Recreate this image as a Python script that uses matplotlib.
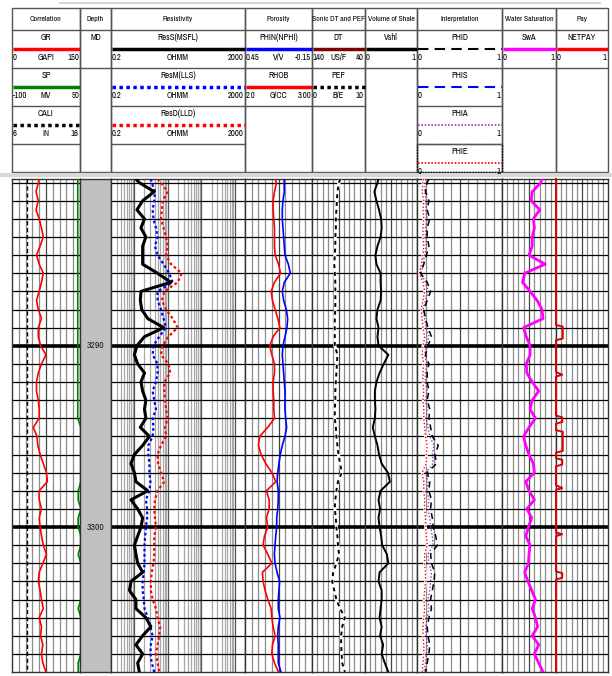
import matplotlib
matplotlib.use('Agg')
import matplotlib.pyplot as plt
from matplotlib.patches import Rectangle

plt.rcParams['font.family'] = ['Archivo Narrow', 'PT Sans Narrow', 'DejaVu Sans']

# depth samples (m), upper block 3280.8-3294, lower block 3294.5-3308
depth = [3280.8, 3281.0, 3281.5, 3282.0, 3282.5, 3283.0, 3283.5, 3284.0, 3284.5, 3285.0,
         3285.5, 3286.0, 3286.5, 3287.0, 3287.5, 3288.0, 3288.5, 3289.0, 3289.5, 3290.0,
         3290.5, 3291.0, 3291.5, 3292.0, 3292.5, 3293.0, 3293.5, 3294.0,
         3294.5, 3295.0, 3295.5, 3296.0, 3296.5, 3297.0, 3297.5, 3298.0, 3298.5, 3299.0,
         3299.5, 3300.0, 3300.5, 3301.0, 3301.5, 3302.0, 3302.5, 3303.0, 3303.5, 3304.0,
         3304.5, 3305.0, 3305.5, 3306.0, 3306.5, 3307.0, 3307.5, 3308.0]

gr = [60, 58, 53, 58, 53, 60, 65, 69, 62, 54, 60, 69, 65, 60, 54, 58, 65, 58, 58, 63,
      75, 65, 58, 54, 54, 58, 60, 60,
      47, 55, 57, 62, 69, 76, 78, 60, 60, 65, 60, 62, 65, 69, 76, 68, 60, 58, 62, 65,
      69, 60, 65, 63, 68, 65, 68, 75]
sp = [45, 45, 45, 45, 45, 45, 45, 45, 45, 45, 45, 45, 45, 45, 45, 45, 45, 45, 45, 45,
      45, 45, 45, 45, 45, 45, 45, 45,
      52, 52, 52, 52, 52, 52, 52, 46, 46, 52, 46, 46, 52, 52, 46, 52, 52, 52, 52, 52,
      46, 52, 52, 52, 52, 52, 46, 46]
cali = [8.2, 8.2, 8.2, 8.2, 8.2, 8.2, 8.2, 8.2, 8.2, 8.2, 8.2, 8.2, 8.2, 8.2, 8.2, 8.2,
        8.2, 8.2, 8.2, 8.2, 8.2, 8.2, 8.2, 8.2, 8.2, 8.2, 8.2, 8.2,
        8.2, 8.2, 8.2, 8.2, 8.2, 8.2, 8.2, 8.2, 8.2, 8.2, 8.2, 8.2, 8.2, 8.2, 8.2, 8.2,
        8.2, 8.2, 8.2, 8.2, 8.2, 8.2, 8.2, 8.2, 8.2, 8.2, 8.2, 8.2]

res_s = [1.11, 1.4, 3.9, 1.76, 1.19, 2.0, 1.57, 2.2, 1.76, 1.76, 1.76, 4.9, 12.3, 1.57,
         1.5, 1.65, 2.5, 7.5, 2.0, 1.19, 1.0, 1.25, 2.0, 1.57, 1.76, 2.2, 2.0, 2.2,
         1.5, 2.8, 1.76, 1.0, 0.79, 1.0, 1.11, 2.5, 0.79, 1.25, 1.76, 1.57, 1.25, 1.0,
         1.11, 1.25, 1.76, 0.79, 0.71, 1.11, 1.11, 2.2, 3.1, 1.76, 1.11, 1.76, 1.25, 1.4]
res_m = [3.1, 3.3, 4.1, 3.9, 3.5, 3.7, 4.4, 4.9, 4.1, 4.9, 7.4, 11, 13.8, 4.9, 4.9, 6.2,
         7.4, 8.8, 5.5, 3.7, 3.5, 4.9, 4.9, 4.4, 3.5, 3.9, 4.4, 3.5,
         3.7, 3.5, 2.6, 2.6, 2.8, 2.8, 3.0, 2.8, 2.2, 2.4, 2.4, 2.2, 2.1, 2.0, 2.0, 2.0,
         1.9, 1.76, 1.76, 1.9, 2.0, 2.5, 3.0, 3.5, 3.1, 3.0, 3.3, 3.9]
res_d = [4.9, 6.2, 9.8, 7.0, 6.6, 6.2, 7.4, 8.8, 9.8, 8.8, 12.4, 25.8, 19.5, 7.8, 6.6,
         8.8, 13.9, 19.5, 10.3, 7.0, 6.2, 10.3, 11.8, 7.8, 7.8, 8.2, 8.8, 9.8,
         8.2, 8.8, 6.2, 4.9, 5.1, 6.2, 7.8, 4.9, 4.1, 3.9, 4.1, 4.4, 3.9, 3.9, 3.9, 3.7,
         3.3, 3.1, 3.1, 3.5, 4.4, 4.9, 5.9, 5.5, 4.9, 4.4, 4.9, 5.5]

rhob = [2.45, 2.47, 2.44, 2.42, 2.42, 2.43, 2.44, 2.44, 2.44, 2.45, 2.50, 2.53, 2.44, 2.39,
        2.41, 2.45, 2.49, 2.52, 2.42, 2.37, 2.40, 2.44, 2.44, 2.42, 2.42, 2.43, 2.43, 2.44,
        2.34, 2.22, 2.20, 2.24, 2.31, 2.40, 2.46, 2.32, 2.36, 2.36, 2.32, 2.34, 2.29, 2.27,
        2.34, 2.40, 2.26, 2.27, 2.30, 2.34, 2.39, 2.40, 2.42, 2.45, 2.41, 2.40, 2.44, 2.50]
nphi = [0.098, 0.10, 0.098, 0.11, 0.116, 0.116, 0.11, 0.104, 0.098, 0.092, 0.062, 0.044,
        0.098, 0.116, 0.104, 0.08, 0.068, 0.074, 0.092, 0.11, 0.116, 0.11, 0.104, 0.098,
        0.092, 0.092, 0.092, 0.086,
        0.077, 0.092, 0.116, 0.134, 0.146, 0.157, 0.163, 0.152, 0.152, 0.157, 0.166, 0.166,
        0.175, 0.181, 0.187, 0.181, 0.163, 0.14, 0.146, 0.152, 0.152, 0.137, 0.152, 0.157,
        0.152, 0.152, 0.152, 0.128]

pef = [5.3, 5.1, 4.8, 4.7, 4.6, 4.5, 4.5, 4.4, 4.4, 4.3, 4.2, 4.3, 4.4, 4.4, 4.4, 4.4,
       4.3, 4.3, 4.3, 4.3, 4.8, 4.7, 4.6, 4.5, 4.4, 4.4, 4.3, 4.3,
       4.5, 4.6, 4.8, 5.0, 5.3, 5.6, 4.9, 4.6, 4.4, 4.3, 4.5, 4.6, 4.8, 4.9, 5.1, 4.6,
       4.0, 3.8, 4.2, 4.6, 5.3, 6.2, 5.7, 5.5, 5.5, 5.6, 5.7, 6.2]

vsh = [0.26, 0.24, 0.18, 0.22, 0.27, 0.31, 0.32, 0.30, 0.24, 0.20, 0.22, 0.30, 0.30, 0.31,
       0.30, 0.24, 0.22, 0.26, 0.24, 0.26, 0.45, 0.36, 0.28, 0.22, 0.19, 0.19, 0.20, 0.19,
       0.15, 0.19, 0.24, 0.27, 0.32, 0.44, 0.48, 0.30, 0.26, 0.29, 0.26, 0.28, 0.31, 0.33,
       0.42, 0.45, 0.28, 0.26, 0.32, 0.32, 0.30, 0.28, 0.32, 0.29, 0.35, 0.32, 0.38, 0.45]

phid = [0.14, 0.12, 0.10, 0.14, 0.12, 0.15, 0.12, 0.12, 0.14, 0.11, 0.08, 0.04, 0.12, 0.16,
        0.12, 0.08, 0.10, 0.13, 0.17, 0.13, 0.10, 0.14, 0.12, 0.12, 0.14, 0.12, 0.15, 0.14,
        0.16, 0.18, 0.25, 0.21, 0.23, 0.12, 0.15, 0.14, 0.17, 0.16, 0.18, 0.19, 0.22, 0.24,
        0.16, 0.17, 0.21, 0.20, 0.18, 0.16, 0.17, 0.14, 0.12, 0.13, 0.15, 0.14, 0.12, 0.10]
phia = [0.11, 0.10, 0.09, 0.11, 0.10, 0.12, 0.10, 0.10, 0.11, 0.09, 0.07, 0.05, 0.10, 0.13,
        0.10, 0.07, 0.09, 0.11, 0.14, 0.11, 0.09, 0.12, 0.10, 0.10, 0.12, 0.10, 0.12, 0.11,
        0.13, 0.15, 0.20, 0.18, 0.19, 0.10, 0.13, 0.12, 0.14, 0.13, 0.15, 0.16, 0.18, 0.19,
        0.13, 0.14, 0.17, 0.16, 0.15, 0.13, 0.14, 0.12, 0.10, 0.11, 0.12, 0.11, 0.10, 0.08]
phie = [0.08, 0.07, 0.06, 0.08, 0.07, 0.08, 0.07, 0.07, 0.08, 0.07, 0.05, 0.03, 0.07, 0.09,
        0.07, 0.05, 0.06, 0.07, 0.09, 0.07, 0.06, 0.08, 0.07, 0.07, 0.08, 0.07, 0.08, 0.08,
        0.09, 0.10, 0.12, 0.11, 0.11, 0.06, 0.08, 0.08, 0.09, 0.09, 0.10, 0.10, 0.11, 0.12,
        0.09, 0.09, 0.10, 0.10, 0.09, 0.08, 0.09, 0.08, 0.07, 0.07, 0.08, 0.08, 0.07, 0.06]

swa = [0.74, 0.72, 0.56, 0.54, 0.70, 0.58, 0.60, 0.56, 0.56, 0.50, 0.80, 0.42, 0.38, 0.52,
       0.65, 0.74, 0.76, 0.40, 0.45, 0.52, 0.52, 0.45, 0.46, 0.56, 0.68, 0.56, 0.52, 0.62,
       0.50, 0.40, 0.44, 0.50, 0.58, 0.60, 0.44, 0.50, 0.60, 0.46, 0.55, 0.49, 0.44, 0.52,
       0.50, 0.49, 0.42, 0.48, 0.55, 0.62, 0.56, 0.62, 0.66, 0.56, 0.68, 0.60, 0.68, 0.76]

pay_depth = [3280.8, 3288.85, 3288.95, 3289.6, 3289.7, 3291.45, 3291.6, 3291.7,
             3293.85, 3293.95, 3294.2, 3294.3, 3294.65, 3294.75, 3295.8, 3295.9,
             3296.2, 3296.3, 3296.55, 3296.65, 3297.7, 3297.85, 3297.95,
             3300.3, 3300.4, 3300.5, 3302.45, 3302.55, 3302.8, 3302.9, 3308.0]
netpay = [0, 0, 0.13, 0.13, 0, 0, 0.12, 0, 0, 0.12, 0.12, 0, 0, 0.13, 0.13, 0,
          0, 0.12, 0.12, 0, 0, 0.12, 0, 0, 0.12, 0, 0, 0.12, 0.12, 0, 0]

depth_labels = [3290, 3300]

titles = ['Correlation', 'Depth', 'Resistivity', 'Porosity', 'Sonic DT and PEF',
          'Volume of Shale', 'Interpretation', 'Water Saturation', 'Pay']
edges = [12, 80, 111, 245, 312, 365, 417, 502, 556, 608]

W, H = 612, 676
TOP, BOT = 179, 672
FS = 6.2

fig = plt.figure(figsize=(W / 100, H / 100), dpi=100)

# ---------- header (pixel coords) ----------
hdr = fig.add_axes([0, 0, 1, 1])
hdr.set_xlim(0, W)
hdr.set_ylim(H, 0)
hdr.axis('off')

hdr.plot([60, 600], [3, 3], color='#d8d8d8', lw=1.5)
hdr.plot([0, W], [175, 175], color='#d8d8d8', lw=3)

for i, t in enumerate(titles):
    x0, x1 = edges[i], edges[i + 1]
    hdr.add_patch(Rectangle((x0, 8), x1 - x0, 164, fill=False, ec='#555555', lw=1))
    hdr.plot([x0, x1], [30, 30], color='#555555', lw=1)
    hdr.text((x0 + x1) / 2, 19, t, ha='center', va='center', fontsize=5.6)

def curve_hdr(col, row, name, color, ls, lw, left, unit, right, box=True):
    x0, x1 = edges[col], edges[col + 1]
    y0 = 30 + 38 * row
    hdr.text((x0 + x1) / 2, y0 + 8, name, ha='center', va='center', fontsize=FS)
    hdr.plot([x0 + 0.5, x1 - 0.5], [y0 + 19, y0 + 19], color=color, ls=ls, lw=lw,
             solid_capstyle='butt')
    hdr.text(x0 + 1, y0 + 27.5, left, ha='left', va='center', fontsize=FS)
    if unit:
        hdr.text((x0 + x1) / 2, y0 + 27.5, unit, ha='center', va='center', fontsize=FS)
    hdr.text(x1 - 1, y0 + 27.5, right, ha='right', va='center', fontsize=FS)
    if box:
        hdr.plot([x0, x1], [y0 + 38, y0 + 38], color='#555555', lw=1)

dot = (0, (1, 1))
curve_hdr(0, 0, 'GR', 'red', '-', 2.5, '0', 'GAPI', '150')
curve_hdr(0, 1, 'SP', 'green', '-', 2.5, '-100', 'MV', '50')
curve_hdr(0, 2, 'CALI', 'black', dot, 2.5, '6', 'IN', '16')
hdr.text(95.5, 38, 'MD', ha='center', va='center', fontsize=FS)
hdr.plot([80, 111], [68, 68], color='#555555', lw=1)
curve_hdr(2, 0, 'ResS(MSFL)', 'black', '-', 2.5, '0.2', 'OHMM', '2000')
curve_hdr(2, 1, 'ResM(LLS)', 'blue', dot, 2.5, '0.2', 'OHMM', '2000')
curve_hdr(2, 2, 'ResD(LLD)', 'red', dot, 2.5, '0.2', 'OHMM', '2000')
curve_hdr(3, 0, 'PHIN(NPHI)', 'blue', '-', 2.5, '0.45', 'V/V', '-0.15')
curve_hdr(3, 1, 'RHOB', 'red', '-', 2.5, '2.0', 'G/CC', '3.00')
curve_hdr(4, 0, 'DT', '#800000', '-', 2.5, '140', 'US/F', '40')
curve_hdr(4, 1, 'PEF', 'black', dot, 2.5, '0', 'B/E', '10')
curve_hdr(5, 0, 'Vshl', 'black', '-', 2.5, '0', '', '1')
curve_hdr(6, 0, 'PHID', 'black', (0, (5, 3)), 1.5, '0', '', '1')
curve_hdr(6, 1, 'PHIS', 'blue', (0, (5, 3)), 1.5, '0', '', '1')
curve_hdr(6, 2, 'PHIA', '#9933cc', dot, 1.2, '0', '', '1')
curve_hdr(6, 3, 'PHIE', 'red', dot, 1.2, '0', '', '1', box=False)
hdr.add_patch(Rectangle((417, 144), 85, 28, fill=False, ec='black', lw=1, ls=(0, (1, 1))))
curve_hdr(7, 0, 'SwA', '#ff00ff', '-', 2.5, '0', '', '1')
curve_hdr(8, 0, 'NETPAY', 'red', '-', 2.5, '0', '', '1')

# ---------- log tracks ----------
def track_ax(col):
    x0, x1 = edges[col], edges[col + 1]
    ax = fig.add_axes([x0 / W, (H - BOT) / H, (x1 - x0) / W, (BOT - TOP) / H])
    ax.set_ylim(3308.0, 3280.8)
    for s in ax.spines.values():
        s.set_color('#333333')
        s.set_linewidth(1)
    return ax

def no_ticks(ax):
    ax.set_xticks([])
    ax.set_xticks([], minor=True)
    ax.set_yticks([])
    ax.set_yticks([], minor=True)

def lin_grid(ax, n=10):
    ax.set_xlim(0, n)
    for i in range(1, n):
        ax.axvline(i, color='#444444' if i == 5 else '#8c8c8c', lw=0.9, zorder=1)
    no_ticks(ax)

def depth_grid(ax):
    for d in range(3281, 3308):
        ax.axhline(d, color='black', lw=2.6 if d % 10 == 0 else 0.9, zorder=1)

def overlay(ax, lo, hi):
    t = ax.twiny()
    t.set_xlim(lo, hi)
    t.axis('off')
    return t

# Correlation
ax = track_ax(0)
lin_grid(ax)
depth_grid(ax)
overlay(ax, 6, 16).plot(cali, depth, color='black', lw=1, ls=(0, (3, 2)))
overlay(ax, -100, 50).plot(sp, depth, color='green', lw=1.2)
overlay(ax, 0, 150).plot(gr, depth, color='red', lw=1.2)

# Depth
ax = track_ax(1)
ax.set_facecolor('#c0c0c0')
ax.set_xlim(0, 1)
no_ticks(ax)
for d in depth_labels:
    ax.text(0.5, d, str(d), ha='center', va='center', fontsize=7, color='#222222')

# Resistivity
ax = track_ax(2)
ax.set_xscale('log')
ax.set_xlim(0.2, 2000)
for dec in [0.1, 1, 10, 100, 1000]:
    for m in range(1, 10):
        v = m * dec
        if 0.2 < v < 2000:
            ax.axvline(v, color='#555555' if m == 1 else '#a8a8a8', lw=0.9, zorder=1)
depth_grid(ax)
ax.plot(res_d, depth, color='red', lw=1.6, ls=(0, (1.2, 1.2)), zorder=3)
ax.plot(res_m, depth, color='blue', lw=1.6, ls=(0, (1.2, 1.2)), zorder=3)
ax.plot(res_s, depth, color='black', lw=2.2, zorder=4)
no_ticks(ax)
ax.tick_params(which='both', bottom=False, labelbottom=False, left=False, labelleft=False)

# Porosity
ax = track_ax(3)
lin_grid(ax)
depth_grid(ax)
overlay(ax, 2.0, 3.0).plot(rhob, depth, color='red', lw=1.2)
overlay(ax, 0.45, -0.15).plot(nphi, depth, color='blue', lw=1.2)

# Sonic / PEF
ax = track_ax(4)
lin_grid(ax)
depth_grid(ax)
o = overlay(ax, 0, 10)
o.plot(pef, depth, color='white', lw=2.2)
o.plot(pef, depth, color='black', lw=1.4, ls=(0, (2, 2)))

# Volume of shale
ax = track_ax(5)
lin_grid(ax)
depth_grid(ax)
overlay(ax, 0, 1).plot(vsh, depth, color='black', lw=1.4)

# Interpretation
ax = track_ax(6)
lin_grid(ax)
depth_grid(ax)
o = overlay(ax, 0, 1)
o.plot(phie, depth, color='white', lw=2)
o.plot(phie, depth, color='red', lw=1, ls=(0, (1, 1.5)))
o.plot(phia, depth, color='#9933cc', lw=1, ls=(0, (1, 1.5)))
o.plot(phid, depth, color='black', lw=1.1, ls=(0, (4, 3)))

# Water saturation
ax = track_ax(7)
lin_grid(ax)
depth_grid(ax)
overlay(ax, 0, 1).plot(swa, depth, color='#ff00ff', lw=2)

# Pay
ax = track_ax(8)
lin_grid(ax)
depth_grid(ax)
o = overlay(ax, 0, 1)
o.plot(netpay, pay_depth, color='#e00000', lw=1.4, clip_on=False)

fig.savefig('out.png', dpi=100)
